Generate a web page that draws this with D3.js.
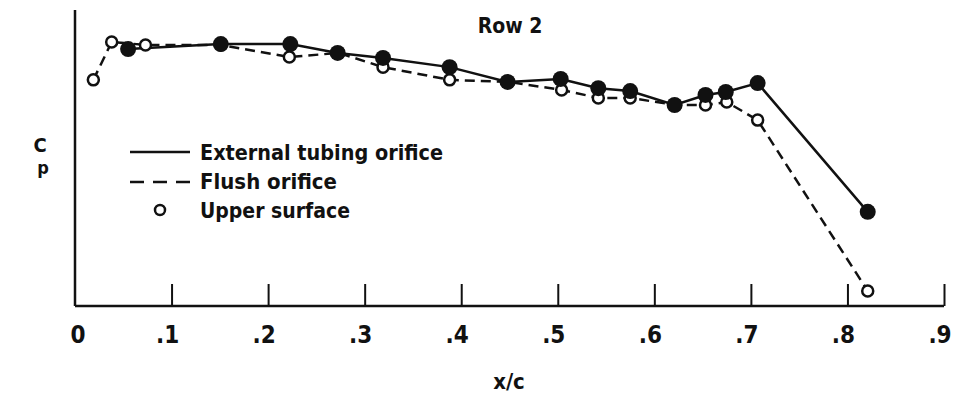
<!DOCTYPE html>
<html>
<head>
<meta charset="utf-8">
<script src="https://cdn.jsdelivr.net/npm/d3@7"></script>
<style>
  body { margin: 0; background: #fff; }
  text { font-family: "DejaVu Sans Condensed", "DejaVu Sans", sans-serif; fill: #111; }
</style>
</head>
<body>
<div id="chart"></div>
<script>
// x/c positions and Cp (relative, axis unlabelled)
const flushX = [0.019, 0.038, 0.073, 0.151, 0.222, 0.273, 0.319, 0.388, 0.449, 0.504, 0.542, 0.575, 0.622, 0.653, 0.675, 0.707, 0.821];
const flushCp = [0.764, 0.892, 0.882, 0.882, 0.841, 0.855, 0.807, 0.764, 0.757, 0.730, 0.703, 0.703, 0.679, 0.679, 0.689, 0.628, 0.051];
const externalX = [0.055, 0.151, 0.223, 0.272, 0.319, 0.388, 0.448, 0.503, 0.542, 0.575, 0.621, 0.653, 0.674, 0.707, 0.821];
const externalCp = [0.868, 0.885, 0.885, 0.855, 0.838, 0.807, 0.757, 0.767, 0.736, 0.726, 0.679, 0.713, 0.723, 0.753, 0.318];
const xTicks = [0, 0.1, 0.2, 0.3, 0.4, 0.5, 0.6, 0.7, 0.8, 0.9];
const xTickLabels = ["0", ".1", ".2", ".3", ".4", ".5", ".6", ".7", ".8", ".9"];
const legendText = ["External tubing orifice", "Flush orifice", "Upper surface"];

const width = 958, height = 394;
const margin = { top: 10, right: 14, bottom: 88, left: 75 };

const svg = d3.select("#chart")
    .append("svg")
    .attr("width", width)
    .attr("height", height);

const y0 = height - margin.bottom;
const xScale = d3.scaleLinear().domain([0, 0.9]).range([margin.left, width - margin.right]);
const yScale = d3.scaleLinear().domain([0, 1]).range([y0, margin.top]);

// x axis with inward ticks
const xAxis = svg.append("g")
    .attr("transform", "translate(0," + y0 + ")")
    .call(d3.axisTop(xScale).tickValues(xTicks).tickSize(22).tickFormat(""));
xAxis.select(".domain").remove();
xAxis.selectAll(".tick line").attr("stroke", "#111").attr("stroke-width", 2);
xAxis.selectAll(".tick").filter(d => d === 0).remove();

svg.append("line")
    .attr("x1", xScale(0)).attr("x2", xScale(0.9))
    .attr("y1", y0).attr("y2", y0)
    .attr("stroke", "#111").attr("stroke-width", 2.5);
svg.append("line")
    .attr("x1", xScale(0)).attr("x2", xScale(0))
    .attr("y1", y0).attr("y2", margin.top)
    .attr("stroke", "#111").attr("stroke-width", 2.5);

svg.selectAll(".xlab")
    .data(xTicks)
    .enter().append("text")
    .attr("class", "xlab")
    .attr("x", (d, i) => xScale(d) + (i === 0 ? 3 : -4))
    .attr("y", y0 + 37)
    .attr("text-anchor", "middle")
    .style("font-size", "24px")
    .style("font-weight", "bold")
    .text((d, i) => xTickLabels[i]);

svg.append("text")
    .attr("x", 509).attr("y", 389)
    .attr("text-anchor", "middle")
    .style("font-size", "22px")
    .style("font-weight", "bold")
    .text("x/c");

// C with subscript p
svg.append("text").attr("x", 40).attr("y", 152).attr("text-anchor", "middle")
    .style("font-size", "20px").style("font-weight", "bold").text("C");
svg.append("text").attr("x", 43).attr("y", 174).attr("text-anchor", "middle")
    .style("font-size", "18px").style("font-weight", "bold").text("p");

svg.append("text")
    .attr("x", 510).attr("y", 33)
    .attr("text-anchor", "middle")
    .style("font-size", "21px")
    .style("font-weight", "bold")
    .text("Row 2");

// lines
const line = d3.line()
    .x(d => xScale(d[0]))
    .y(d => yScale(d[1]));

const flush = flushX.map((x, i) => [x, flushCp[i]]);
const external = externalX.map((x, i) => [x, externalCp[i]]);

svg.append("path")
    .attr("d", line(flush))
    .attr("fill", "none")
    .attr("stroke", "#111")
    .attr("stroke-width", 2.5)
    .attr("stroke-dasharray", "10,6");

svg.append("path")
    .attr("d", line(external))
    .attr("fill", "none")
    .attr("stroke", "#111")
    .attr("stroke-width", 2.5);

svg.selectAll(".open")
    .data(flush)
    .enter().append("circle")
    .attr("cx", d => xScale(d[0]))
    .attr("cy", d => yScale(d[1]))
    .attr("r", 5.5)
    .attr("fill", "#fff")
    .attr("stroke", "#111")
    .attr("stroke-width", 2.5);

svg.selectAll(".filled")
    .data(external)
    .enter().append("circle")
    .attr("cx", d => xScale(d[0]))
    .attr("cy", d => yScale(d[1]))
    .attr("r", 8)
    .attr("fill", "#111");

// legend
const legend = svg.append("g");
legend.append("line").attr("x1", 130).attr("x2", 190).attr("y1", 152).attr("y2", 152)
    .attr("stroke", "#111").attr("stroke-width", 2.5);
legend.append("line").attr("x1", 130).attr("x2", 190).attr("y1", 182).attr("y2", 182)
    .attr("stroke", "#111").attr("stroke-width", 2.5).attr("stroke-dasharray", "14,9");
legend.append("circle").attr("cx", 160).attr("cy", 210).attr("r", 5)
    .attr("fill", "#fff").attr("stroke", "#111").attr("stroke-width", 2.5);

const legendWidths = [243, 137, 150];
legend.selectAll("text")
    .data(legendText)
    .enter().append("text")
    .attr("x", 200)
    .attr("y", (d, i) => 160 + i * 29)
    .attr("textLength", (d, i) => legendWidths[i])
    .attr("lengthAdjust", "spacingAndGlyphs")
    .style("font-size", "22px")
    .style("font-weight", "bold")
    .text(d => d);
</script>
</body>
</html>
